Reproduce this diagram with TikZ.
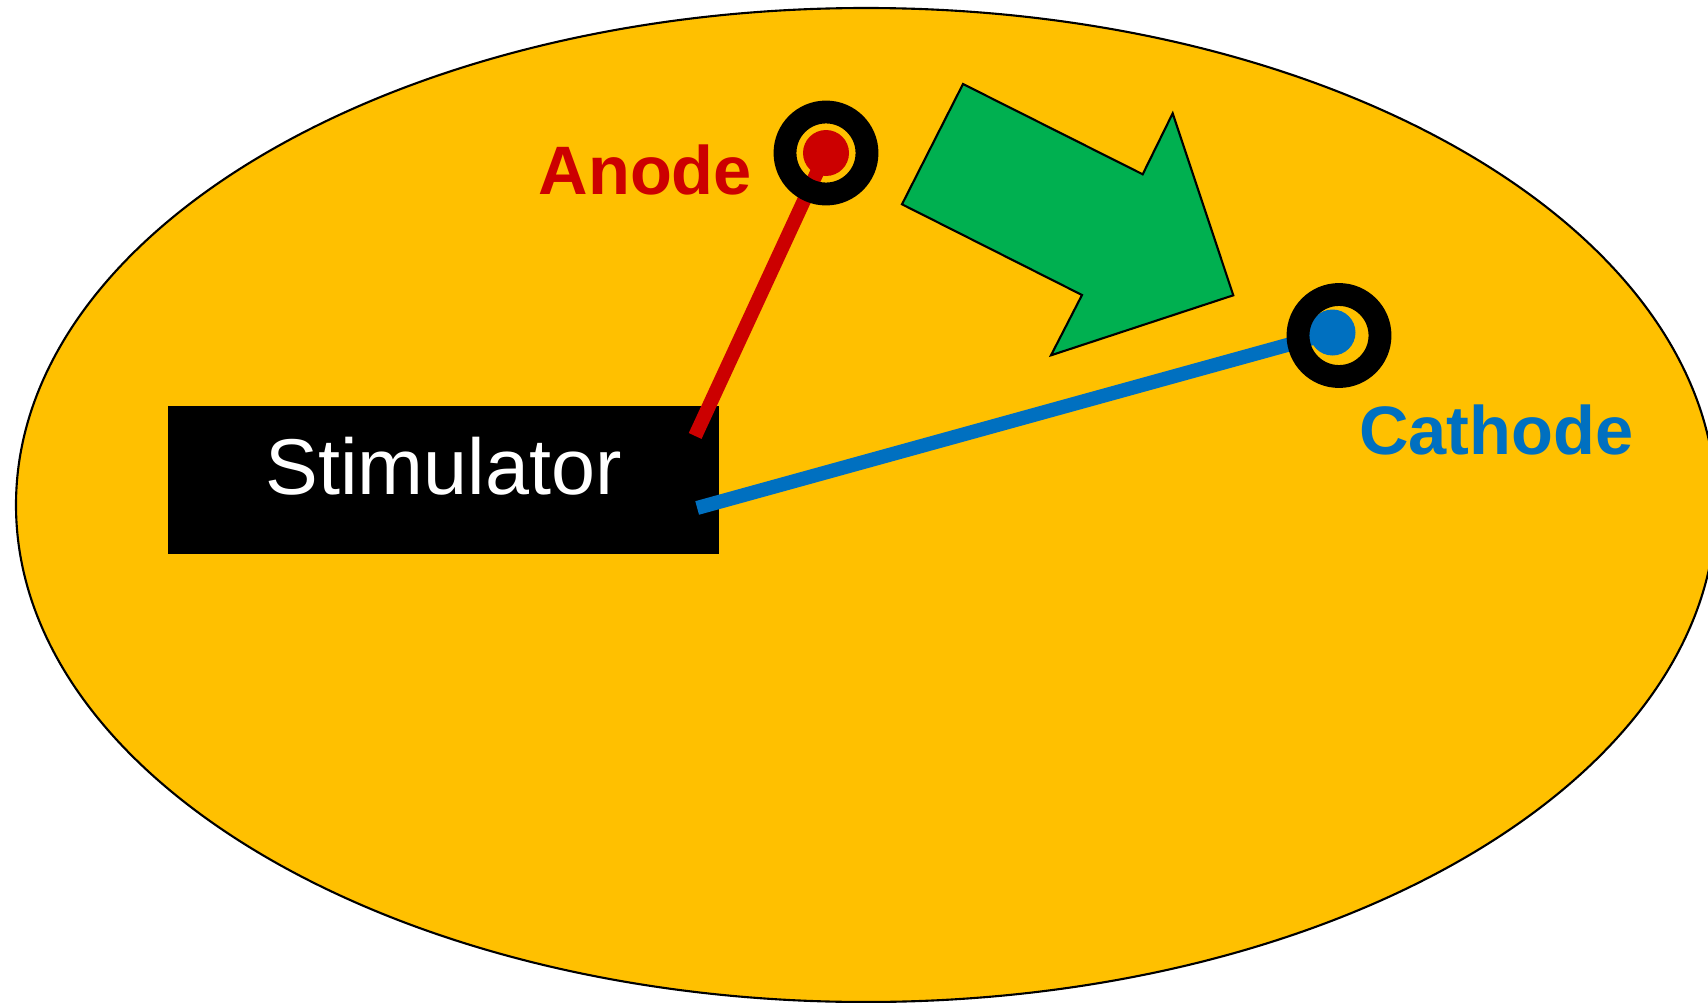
\documentclass[tikz,border=0pt]{standalone}
\usepackage{fontspec}
\setmainfont{Liberation Sans}
\definecolor{stimTissue}{HTML}{FFC000}
\definecolor{stimRed}{HTML}{CC0000}
\definecolor{stimBlue}{HTML}{0070C0}
\definecolor{stimGreen}{HTML}{00B050}
\tikzset{
  stim diagram/.style={
    x=0.01cm, y=-0.01cm, line join=miter,
    every node/.style={inner sep=0pt, outer sep=0pt}
  },
  stim body/.style={draw=black, fill=stimTissue, line width=0.6pt},
  stim box/.style={fill=black, text=white,
    minimum width=5.51cm, minimum height=1.48cm,
    text height=16pt, text depth=7.5pt,
    font=\fontsize{22.5}{27}\selectfont},
  stim flow/.style={draw=black, fill=stimGreen, line width=0.6pt},
  stim wire/.style={line width=4pt},
  stim ring/.style={draw=black, line width=6.5pt},
  stim label/.style={font=\bfseries\fontsize{19.5}{23}\selectfont}
}
% electrode: black ring over a coloured contact
\newcommand{\StimElectrode}[3]{%
  \fill[#3] ([shift={#2}]#1) circle[radius=23];
  \draw[stim ring] (#1) circle[radius=41];
}

\begin{document}
\begin{tikzpicture}[stim diagram]
    \useasboundingbox (0,0) rectangle (1708,1003);
    \clip (0,0) rectangle (1708,1003);
    \draw[stim body] (866,505) ellipse[x radius=850, y radius=497];

    \node[stim box] (stim) at (443.5,480) {Stimulator};
    \coordinate (anode) at (826,153);
    \coordinate (cathode) at (1339,335.5);

    % current flow
    \draw[stim flow] (963,84) -- (1142.7,174.3) -- (1172.7,113.3)
      -- (1233.3,295.3) -- (1051,355.3) -- (1082,295) -- (902,204.3) -- cycle;

    \draw[stim wire, stimRed] ([shift={(-24,30)}]stim.north east) -- (anode);
    \draw[stim wire, stimBlue] ([shift={(-22,102)}]stim.north east)
      -- ([shift={(-6.5,-3)}]cathode);

    \StimElectrode{anode}{(0,0)}{stimRed}
    \StimElectrode{cathode}{(-6.5,-3)}{stimBlue}

    \node[stim label, text=stimRed, anchor=base east] (anodeText)
      at (752,194) {Anode};
    \node[stim label, text=stimBlue, anchor=base west] (cathodeText)
      at (1359,454) {Cathode};
  \end{tikzpicture}
\end{document}
